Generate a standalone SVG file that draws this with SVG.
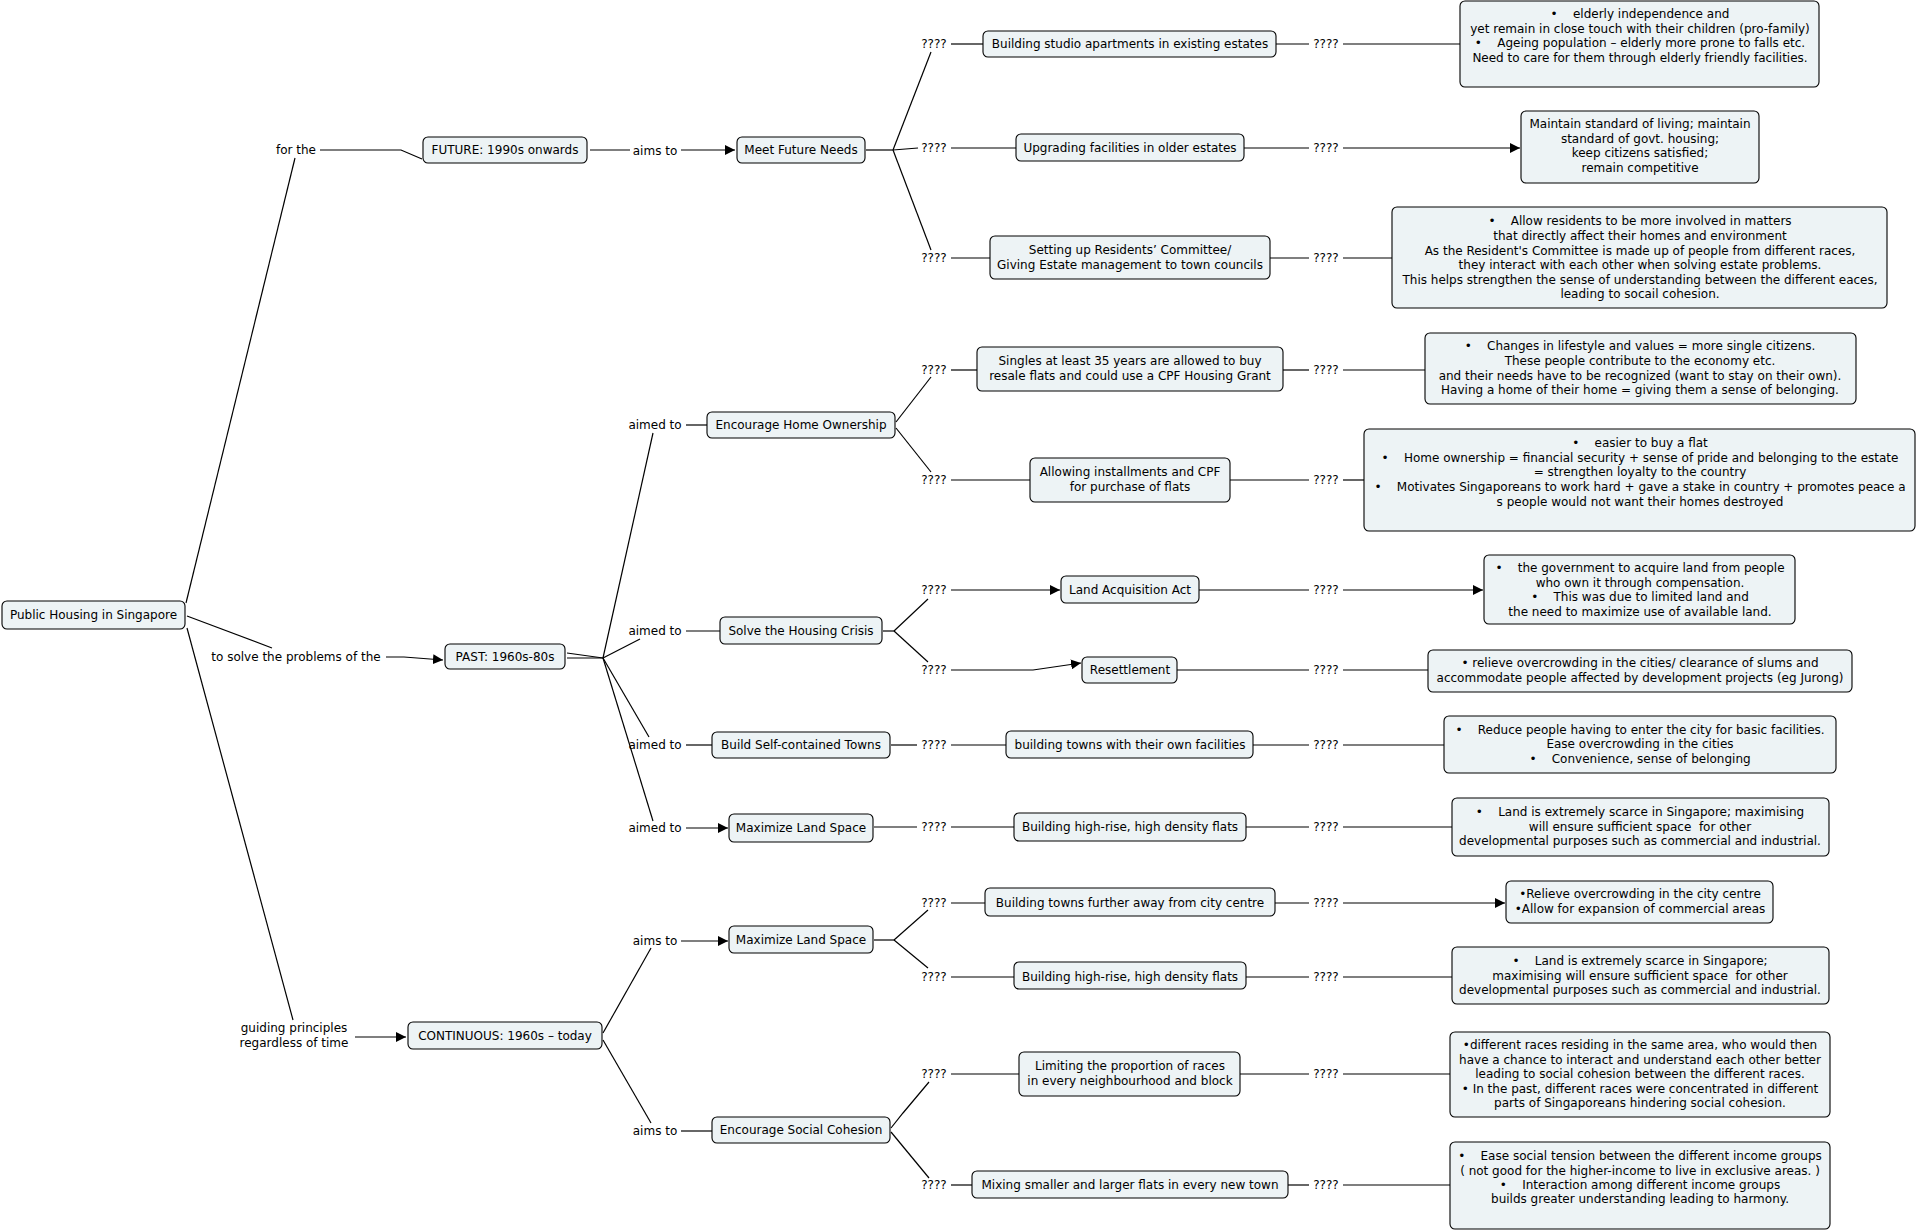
<svg xmlns="http://www.w3.org/2000/svg" width="1918" height="1231" viewBox="0 0 1918 1231">
<style>
.n{fill:#EDF3F5;stroke:#000;stroke-width:1.1}
.t{font-family:"DejaVu Sans",Verdana,sans-serif;font-size:12px;fill:#000;text-anchor:middle}
.c{fill:none;stroke:#000;stroke-width:1.2}
.a{marker-end:url(#arr)}
</style>
<defs>
<marker id="arr" markerUnits="userSpaceOnUse" viewBox="0 0 10 10" refX="10" refY="5" markerWidth="10" markerHeight="10" orient="auto">
<path d="M0,0 L10,5 L0,10 z" fill="#000"/>
</marker>
</defs>
<rect width="1918" height="1231" fill="#fff"/>

<g id="connectors">
<!-- root -->
<polyline class="c" points="186,603 295,158"/>
<polyline class="c" points="187,616 272,648"/>
<polyline class="c" points="187,628 293,1020"/>
<polyline class="c" points="320,150 401,150 422,159"/>
<polyline class="c a" points="386,657 404,657 443,660"/>
<polyline class="c a" points="355,1037 406,1037"/>
<!-- future -->
<polyline class="c" points="590,150 630,150"/>
<polyline class="c a" points="681,150 735,150"/>
<polyline class="c" points="866,150 893,150"/>
<polyline class="c" points="893,150 931,52"/>
<polyline class="c" points="893,150 918,148"/>
<polyline class="c" points="893,150 931,250"/>
<!-- past -->
<polyline class="c" points="567,653 603,658"/>
<polyline class="c" points="567,658 603,658"/>
<polyline class="c" points="603,658 653,433"/>
<polyline class="c" points="603,658 640,639"/>
<polyline class="c" points="603,658 649,737"/>
<polyline class="c" points="603,658 653,821"/>
<polyline class="c" points="686,425 707,425"/>
<polyline class="c" points="686,631 720,631"/>
<polyline class="c" points="686,745 712,745"/>
<polyline class="c a" points="686,828 728,828"/>
<polyline class="c" points="896,422 931,377"/>
<polyline class="c" points="896,428 931,472"/>
<polyline class="c" points="883,631 894,631"/>
<polyline class="c" points="894,631 928,599"/>
<polyline class="c" points="894,631 928,662"/>
<polyline class="c" points="891,745 917,745"/>
<polyline class="c" points="874,827 917,827"/>
<!-- continuous -->
<polyline class="c" points="603,1033 651,948"/>
<polyline class="c" points="603,1040 651,1123"/>
<polyline class="c a" points="681,941 728,941"/>
<polyline class="c" points="681,1131 712,1131"/>
<polyline class="c" points="874,940 894,940"/>
<polyline class="c" points="894,940 928,910"/>
<polyline class="c" points="894,940 928,968"/>
<polyline class="c" points="891,1128 903,1113 929,1082"/>
<polyline class="c" points="891,1132 929,1178"/>
<!-- rows left -->
<polyline class="c" points="951,44 983,44"/>
<polyline class="c" points="951,148 1016,148"/>
<polyline class="c" points="951,258 990,258"/>
<polyline class="c" points="951,370 977,370"/>
<polyline class="c" points="951,480 1030,480"/>
<polyline class="c a" points="951,590 1060,590"/>
<polyline class="c a" points="951,670 1033,670 1081,663"/>
<polyline class="c" points="951,745 1006,745"/>
<polyline class="c" points="951,827 1014,827"/>
<polyline class="c" points="951,903 985,903"/>
<polyline class="c" points="951,977 1014,977"/>
<polyline class="c" points="951,1074 1019,1074"/>
<polyline class="c" points="951,1185 972,1185"/>
<!-- rows right -->
<polyline class="c" points="1276,44 1309,44"/>
<polyline class="c" points="1343,44 1460,44"/>
<polyline class="c" points="1244,148 1309,148"/>
<polyline class="c a" points="1343,148 1520,148"/>
<polyline class="c" points="1270,258 1309,258"/>
<polyline class="c" points="1343,258 1392,258"/>
<polyline class="c" points="1283,370 1309,370"/>
<polyline class="c" points="1343,370 1425,370"/>
<polyline class="c" points="1230,480 1309,480"/>
<polyline class="c" points="1343,480 1364,480"/>
<polyline class="c" points="1199,590 1309,590"/>
<polyline class="c a" points="1343,590 1483,590"/>
<polyline class="c" points="1177,670 1309,670"/>
<polyline class="c" points="1343,670 1428,670"/>
<polyline class="c" points="1253,745 1309,745"/>
<polyline class="c" points="1343,745 1444,745"/>
<polyline class="c" points="1246,827 1309,827"/>
<polyline class="c" points="1343,827 1452,827"/>
<polyline class="c" points="1275,903 1309,903"/>
<polyline class="c a" points="1343,903 1505,903"/>
<polyline class="c" points="1246,977 1309,977"/>
<polyline class="c" points="1343,977 1452,977"/>
<polyline class="c" points="1240,1074 1309,1074"/>
<polyline class="c" points="1343,1074 1450,1074"/>
<polyline class="c" points="1288,1185 1309,1185"/>
<polyline class="c" points="1343,1185 1450,1185"/>
</g>

<!-- linking phrases -->
<g id="lp-forthe"><text class="t" x="296" y="154">for the</text></g>
<g id="lp-tosolve"><text class="t" x="296" y="661">to solve the problems of the</text></g>
<g id="lp-guiding"><text class="t" x="294" y="1032">guiding principles</text><text class="t" x="294" y="1047">regardless of time</text></g>
<g id="lp-aims1"><text class="t" x="655" y="155">aims to</text></g>
<g id="lp-aimed1"><text class="t" x="655" y="429">aimed to</text></g>
<g id="lp-aimed2"><text class="t" x="655" y="635">aimed to</text></g>
<g id="lp-aimed3"><text class="t" x="655" y="749">aimed to</text></g>
<g id="lp-aimed4"><text class="t" x="655" y="832">aimed to</text></g>
<g id="lp-aims2"><text class="t" x="655" y="945">aims to</text></g>
<g id="lp-aims3"><text class="t" x="655" y="1135">aims to</text></g>
<g id="lp-q-left">
<text class="t" x="934" y="48">????</text>
<text class="t" x="934" y="152">????</text>
<text class="t" x="934" y="262">????</text>
<text class="t" x="934" y="374">????</text>
<text class="t" x="934" y="484">????</text>
<text class="t" x="934" y="594">????</text>
<text class="t" x="934" y="674">????</text>
<text class="t" x="934" y="749">????</text>
<text class="t" x="934" y="831">????</text>
<text class="t" x="934" y="907">????</text>
<text class="t" x="934" y="981">????</text>
<text class="t" x="934" y="1078">????</text>
<text class="t" x="934" y="1189">????</text>
</g>
<g id="lp-q-right">
<text class="t" x="1326" y="48">????</text>
<text class="t" x="1326" y="152">????</text>
<text class="t" x="1326" y="262">????</text>
<text class="t" x="1326" y="374">????</text>
<text class="t" x="1326" y="484">????</text>
<text class="t" x="1326" y="594">????</text>
<text class="t" x="1326" y="674">????</text>
<text class="t" x="1326" y="749">????</text>
<text class="t" x="1326" y="831">????</text>
<text class="t" x="1326" y="907">????</text>
<text class="t" x="1326" y="981">????</text>
<text class="t" x="1326" y="1078">????</text>
<text class="t" x="1326" y="1189">????</text>
</g>

<!-- main nodes -->
<g id="root"><rect class="n" x="2" y="601" width="183" height="28" rx="5"/><text class="t" x="93.5" y="619">Public Housing in Singapore</text></g>
<g id="future"><rect class="n" x="423" y="137" width="164" height="26" rx="5"/><text class="t" x="505" y="154">FUTURE: 1990s onwards</text></g>
<g id="past"><rect class="n" x="445" y="644" width="120" height="25" rx="5"/><text class="t" x="505" y="661">PAST: 1960s-80s</text></g>
<g id="continuous"><rect class="n" x="408" y="1022" width="194" height="27" rx="5"/><text class="t" x="505" y="1040">CONTINUOUS: 1960s – today</text></g>

<g id="meet"><rect class="n" x="737" y="137" width="128" height="26" rx="5"/><text class="t" x="801" y="154">Meet Future Needs</text></g>
<g id="eho"><rect class="n" x="707" y="412" width="188" height="26" rx="5"/><text class="t" x="801" y="429">Encourage Home Ownership</text></g>
<g id="solve"><rect class="n" x="720" y="617" width="162" height="27" rx="5"/><text class="t" x="801" y="635">Solve the Housing Crisis</text></g>
<g id="build"><rect class="n" x="712" y="732" width="178" height="26" rx="5"/><text class="t" x="801" y="749">Build Self-contained Towns</text></g>
<g id="maxpast"><rect class="n" x="729" y="814" width="144" height="28" rx="5"/><text class="t" x="801" y="832">Maximize Land Space</text></g>
<g id="maxcont"><rect class="n" x="729" y="926" width="144" height="27" rx="5"/><text class="t" x="801" y="944">Maximize Land Space</text></g>
<g id="esc"><rect class="n" x="712" y="1117" width="178" height="26" rx="5"/><text class="t" x="801" y="1134">Encourage Social Cohesion</text></g>

<!-- middle column -->
<g id="m-a"><rect class="n" x="983" y="31" width="293" height="26" rx="5"/><text class="t" x="1130" y="48">Building studio apartments in existing estates</text></g>
<g id="m-b"><rect class="n" x="1016" y="134" width="228" height="27" rx="5"/><text class="t" x="1130" y="152">Upgrading facilities in older estates</text></g>
<g id="m-c"><rect class="n" x="990" y="236" width="280" height="43" rx="5"/><text class="t" x="1130" y="254">Setting up Residents’ Committee/</text><text class="t" x="1130" y="269">Giving Estate management to town councils</text></g>
<g id="m-d"><rect class="n" x="977" y="347" width="306" height="44" rx="5"/><text class="t" x="1130" y="365">Singles at least 35 years are allowed to buy</text><text class="t" x="1130" y="380">resale flats and could use a CPF Housing Grant</text></g>
<g id="m-e"><rect class="n" x="1030" y="458" width="200" height="44" rx="5"/><text class="t" x="1130" y="476">Allowing installments and CPF</text><text class="t" x="1130" y="491">for purchase of flats</text></g>
<g id="m-f"><rect class="n" x="1061" y="576" width="138" height="27" rx="5"/><text class="t" x="1130" y="594">Land Acquisition Act</text></g>
<g id="m-g"><rect class="n" x="1082" y="657" width="95" height="26" rx="5"/><text class="t" x="1130" y="674">Resettlement</text></g>
<g id="m-h"><rect class="n" x="1006" y="731" width="247" height="27" rx="5"/><text class="t" x="1130" y="749">building towns with their own facilities</text></g>
<g id="m-i"><rect class="n" x="1014" y="813" width="232" height="28" rx="5"/><text class="t" x="1130" y="831">Building high-rise, high density flats</text></g>
<g id="m-j"><rect class="n" x="985" y="888" width="290" height="28" rx="5"/><text class="t" x="1130" y="907">Building towns further away from city centre</text></g>
<g id="m-k"><rect class="n" x="1014" y="962" width="232" height="27" rx="5"/><text class="t" x="1130" y="981">Building high-rise, high density flats</text></g>
<g id="m-l"><rect class="n" x="1019" y="1052" width="221" height="44" rx="5"/><text class="t" x="1130" y="1070">Limiting the proportion of races</text><text class="t" x="1130" y="1085">in every neighbourhood and block</text></g>
<g id="m-m"><rect class="n" x="972" y="1171" width="316" height="27" rx="5"/><text class="t" x="1130" y="1189">Mixing smaller and larger flats in every new town</text></g>

<!-- right column -->
<g id="r-a"><rect class="n" x="1460" y="1" width="359" height="86" rx="5"/>
<text class="t" x="1640" y="18" xml:space="preserve">•    elderly independence and</text>
<text class="t" x="1640" y="33">yet remain in close touch with their children (pro-family)</text>
<text class="t" x="1640" y="47" xml:space="preserve">•    Ageing population – elderly more prone to falls etc.</text>
<text class="t" x="1640" y="62">Need to care for them through elderly friendly facilities.</text></g>
<g id="r-b"><rect class="n" x="1521" y="111" width="238" height="72" rx="5"/>
<text class="t" x="1640" y="128">Maintain standard of living; maintain</text>
<text class="t" x="1640" y="143">standard of govt. housing;</text>
<text class="t" x="1640" y="157">keep citizens satisfied;</text>
<text class="t" x="1640" y="172">remain competitive</text></g>
<g id="r-c"><rect class="n" x="1392" y="207" width="495" height="101" rx="5"/>
<text class="t" x="1640" y="225" xml:space="preserve">•    Allow residents to be more involved in matters</text>
<text class="t" x="1640" y="240">that directly affect their homes and environment</text>
<text class="t" x="1640" y="255">As the Resident's Committee is made up of people from different races,</text>
<text class="t" x="1640" y="269">they interact with each other when solving estate problems.</text>
<text class="t" x="1640" y="284">This helps strengthen the sense of understanding between the different eaces,</text>
<text class="t" x="1640" y="298">leading to socail cohesion.</text></g>
<g id="r-d"><rect class="n" x="1425" y="333" width="431" height="71" rx="5"/>
<text class="t" x="1640" y="350" xml:space="preserve">•    Changes in lifestyle and values = more single citizens.</text>
<text class="t" x="1640" y="365">These people contribute to the economy etc.</text>
<text class="t" x="1640" y="380">and their needs have to be recognized (want to stay on their own).</text>
<text class="t" x="1640" y="394">Having a home of their home = giving them a sense of belonging.</text></g>
<g id="r-e"><rect class="n" x="1364" y="429" width="551" height="102" rx="5"/>
<text class="t" x="1640" y="447" xml:space="preserve">•    easier to buy a flat</text>
<text class="t" x="1640" y="462" xml:space="preserve">•    Home ownership = financial security + sense of pride and belonging to the estate</text>
<text class="t" x="1640" y="476">= strengthen loyalty to the country</text>
<text class="t" x="1640" y="491" xml:space="preserve">•    Motivates Singaporeans to work hard + gave a stake in country + promotes peace a</text>
<text class="t" x="1640" y="506">s people would not want their homes destroyed</text></g>
<g id="r-f"><rect class="n" x="1484" y="555" width="311" height="69" rx="5"/>
<text class="t" x="1640" y="572" xml:space="preserve">•    the government to acquire land from people</text>
<text class="t" x="1640" y="587">who own it through compensation.</text>
<text class="t" x="1640" y="601" xml:space="preserve">•    This was due to limited land and</text>
<text class="t" x="1640" y="616">the need to maximize use of available land.</text></g>
<g id="r-g"><rect class="n" x="1428" y="650" width="424" height="42" rx="5"/>
<text class="t" x="1640" y="667">• relieve overcrowding in the cities/ clearance of slums and</text>
<text class="t" x="1640" y="682">accommodate people affected by development projects (eg Jurong)</text></g>
<g id="r-h"><rect class="n" x="1444" y="716" width="392" height="57" rx="5"/>
<text class="t" x="1640" y="734" xml:space="preserve">•    Reduce people having to enter the city for basic facilities.</text>
<text class="t" x="1640" y="748">Ease overcrowding in the cities</text>
<text class="t" x="1640" y="763" xml:space="preserve">•    Convenience, sense of belonging</text></g>
<g id="r-i"><rect class="n" x="1452" y="798" width="377" height="58" rx="5"/>
<text class="t" x="1640" y="816" xml:space="preserve">•    Land is extremely scarce in Singapore; maximising</text>
<text class="t" x="1640" y="831" xml:space="preserve">will ensure sufficient space  for other</text>
<text class="t" x="1640" y="845">developmental purposes such as commercial and industrial.</text></g>
<g id="r-j"><rect class="n" x="1506" y="881" width="267" height="42" rx="5"/>
<text class="t" x="1640" y="898">•Relieve overcrowding in the city centre</text>
<text class="t" x="1640" y="913">•Allow for expansion of commercial areas</text></g>
<g id="r-k"><rect class="n" x="1452" y="947" width="377" height="57" rx="5"/>
<text class="t" x="1640" y="965" xml:space="preserve">•    Land is extremely scarce in Singapore;</text>
<text class="t" x="1640" y="980" xml:space="preserve">maximising will ensure sufficient space  for other</text>
<text class="t" x="1640" y="994">developmental purposes such as commercial and industrial.</text></g>
<g id="r-l"><rect class="n" x="1450" y="1032" width="380" height="85" rx="5"/>
<text class="t" x="1640" y="1049">•different races residing in the same area, who would then</text>
<text class="t" x="1640" y="1064">have a chance to interact and understand each other better</text>
<text class="t" x="1640" y="1078">leading to social cohesion between the different races.</text>
<text class="t" x="1640" y="1093">• In the past, different races were concentrated in different</text>
<text class="t" x="1640" y="1107">parts of Singaporeans hindering social cohesion.</text></g>
<g id="r-m"><rect class="n" x="1450" y="1142" width="380" height="87" rx="5"/>
<text class="t" x="1640" y="1160" xml:space="preserve">•    Ease social tension between the different income groups</text>
<text class="t" x="1640" y="1175">( not good for the higher-income to live in exclusive areas. )</text>
<text class="t" x="1640" y="1189" xml:space="preserve">•    Interaction among different income groups</text>
<text class="t" x="1640" y="1203">builds greater understanding leading to harmony.</text></g>
</svg>
